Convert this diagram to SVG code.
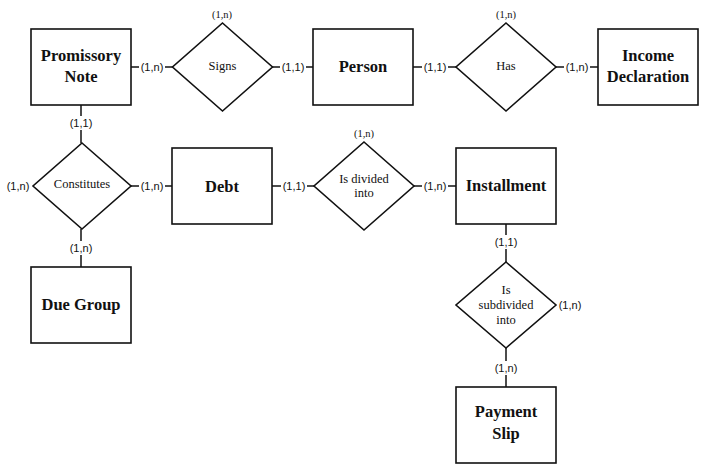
<svg xmlns="http://www.w3.org/2000/svg" width="706" height="470" viewBox="0 0 706 470">
<style>
.ent rect{fill:#fff;stroke:#111;stroke-width:1.6}
.rel polygon{fill:#fff;stroke:#111;stroke-width:1.6}
.et{font-family:"Liberation Serif",serif;font-weight:bold;font-size:16.5px;fill:#111;text-anchor:middle;dominant-baseline:central}
.rt{font-family:"Liberation Serif",serif;font-size:12.5px;fill:#111;text-anchor:middle;dominant-baseline:central}
.conn line{stroke:#111;stroke-width:1.5}
.cs{font-family:"Liberation Sans",sans-serif;font-size:11px;fill:#111;text-anchor:middle;dominant-baseline:central}
.ct{font-family:"Liberation Serif",serif;font-size:10.5px;fill:#111;text-anchor:middle;dominant-baseline:central}
</style>
<rect width="706" height="470" fill="#fff"/>
<g id="connectors" class="conn">
<line x1="131" y1="67" x2="139" y2="67"/><line x1="165" y1="67" x2="173" y2="67"/>
<line x1="272" y1="67" x2="280" y2="67"/><line x1="306" y1="67" x2="313" y2="67"/>
<line x1="413" y1="67" x2="422" y2="67"/><line x1="448" y1="67" x2="456" y2="67"/>
<line x1="556" y1="67" x2="564" y2="67"/><line x1="590" y1="67" x2="598" y2="67"/>
<line x1="81" y1="105" x2="81" y2="116"/><line x1="81" y1="130" x2="81" y2="143"/>
<line x1="81" y1="229" x2="81" y2="241"/><line x1="81" y1="255" x2="81" y2="267"/>
<line x1="131" y1="186" x2="139" y2="186"/><line x1="165" y1="186" x2="172" y2="186"/>
<line x1="272" y1="186" x2="281" y2="186"/><line x1="307" y1="186" x2="314" y2="186"/>
<line x1="414" y1="186" x2="422" y2="186"/><line x1="448" y1="186" x2="456" y2="186"/>
<line x1="506" y1="224" x2="506" y2="235"/><line x1="506" y1="249" x2="506" y2="262"/>
<line x1="506" y1="348" x2="506" y2="361"/><line x1="506" y1="375" x2="506" y2="387"/>
</g>
<g id="labels">
<text class="cs" x="152" y="67">(1,n)</text>
<text class="cs" x="293" y="67">(1,1)</text>
<text class="cs" x="435" y="67">(1,1)</text>
<text class="cs" x="577" y="67">(1,n)</text>
<text class="ct" x="222" y="14">(1,n)</text>
<text class="ct" x="506" y="14">(1,n)</text>
<text class="cs" x="81" y="123">(1,1)</text>
<text class="cs" x="81" y="248">(1,n)</text>
<text class="cs" x="18" y="186">(1,n)</text>
<text class="cs" x="152" y="186">(1,n)</text>
<text class="cs" x="294" y="186">(1,1)</text>
<text class="cs" x="435" y="186">(1,n)</text>
<text class="ct" x="364" y="133">(1,n)</text>
<text class="cs" x="506" y="242">(1,1)</text>
<text class="cs" x="570" y="305">(1,n)</text>
<text class="cs" x="506" y="368">(1,n)</text>
</g>
<g id="promissory-note" class="ent"><rect x="31" y="29" width="100" height="76"/><text class="et" x="81" y="55">Promissory</text><text class="et" x="81" y="76">Note</text></g>
<g id="signs" class="rel"><polygon points="222.5,23 272.5,67 222.5,111 172.5,67"/><text class="rt" x="222.5" y="66">Signs</text></g>
<g id="person" class="ent"><rect x="313" y="29" width="100" height="76"/><text class="et" x="363" y="66">Person</text></g>
<g id="has" class="rel"><polygon points="506,23 556,67 506,111 456,67"/><text class="rt" x="506" y="66">Has</text></g>
<g id="income-declaration" class="ent"><rect x="598" y="29" width="100" height="76"/><text class="et" x="648" y="55">Income</text><text class="et" x="648" y="76">Declaration</text></g>
<g id="constitutes" class="rel"><polygon points="82,143 131,186 82,229 33,186"/><text class="rt" x="82" y="184">Constitutes</text></g>
<g id="debt" class="ent"><rect x="172" y="148" width="100" height="76"/><text class="et" x="222" y="186">Debt</text></g>
<g id="is-divided-into" class="rel"><polygon points="364,142 414,186 364,230 314,186"/><text class="rt" x="364" y="179">Is divided</text><text class="rt" x="364" y="193">into</text></g>
<g id="installment" class="ent"><rect x="456" y="148" width="100" height="76"/><text class="et" x="506" y="185">Installment</text></g>
<g id="due-group" class="ent"><rect x="31" y="267" width="100" height="76"/><text class="et" x="81" y="304">Due Group</text></g>
<g id="is-subdivided-into" class="rel"><polygon points="506,262 556,305 506,348 456,305"/><text class="rt" x="506" y="290">Is</text><text class="rt" x="506" y="305">subdivided</text><text class="rt" x="506" y="320">into</text></g>
<g id="payment-slip" class="ent"><rect x="456" y="387" width="100" height="76"/><text class="et" x="506" y="411">Payment</text><text class="et" x="506" y="433">Slip</text></g>
</svg>
